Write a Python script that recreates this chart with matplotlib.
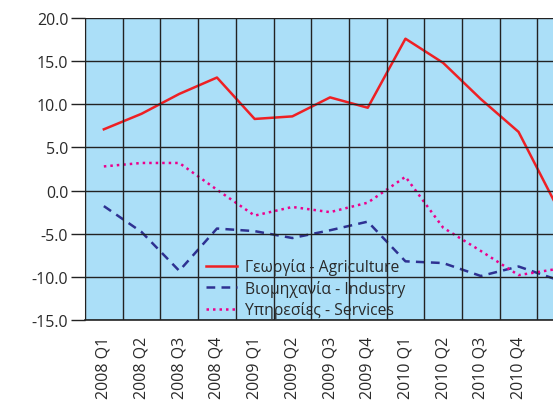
import matplotlib.pyplot as plt
from matplotlib.ticker import FixedLocator, FuncFormatter

# quarters (the last one falls just outside the picture, its label is not shown)
quarters = ["2008 Q1", "2008 Q2", "2008 Q3", "2008 Q4",
            "2009 Q1", "2009 Q2", "2009 Q3", "2009 Q4",
            "2010 Q1", "2010 Q2", "2010 Q3", "2010 Q4", "2011 Q1"]

agriculture = [7.1, 8.9, 11.2, 13.1, 8.3, 8.6, 10.8, 9.6, 17.6, 14.8, 10.6, 6.8, -1.7]
industry = [-1.8, -4.8, -9.3, -4.4, -4.7, -5.5, -4.6, -3.6, -8.2, -8.4, -9.9, -8.8, -10.3]
services = [2.8, 3.2, 3.2, 0.1, -2.9, -1.9, -2.5, -1.4, 1.6, -4.3, -7.0, -9.8, -9.1]

labels = ["Γεωργία - Agriculture", "Βιομηχανία - Industry", "Υπηρεσίες - Services"]

plt.rcParams['font.family'] = ['Open Sans', 'DejaVu Sans']

fig = plt.figure(figsize=(5.53, 4.02), dpi=100)
# axes run past the right edge of the picture, as in the original crop
W, H = 553, 402
left, right, top, bottom = 85, 85 + 37.7 * len(quarters), 19, 321
ax = fig.add_axes([left / W, 1 - bottom / H, (right - left) / W, (bottom - top) / H])
ax.set_facecolor("#ABDFF8")

x = range(len(quarters))
ax.plot(x, agriculture, color="#EE2024", lw=1.8, label=labels[0])
ax.plot(x, industry, color="#2E3192", lw=1.8, ls=(0, (3.5, 2.5)), label=labels[1])
ax.plot(x, services, color="#EC008C", lw=1.8, ls=(0, (1, 1.6)), label=labels[2])

ax.set_xlim(-0.5, len(quarters) - 0.5)
ax.set_ylim(-15, 20)
ax.set_yticks(range(-15, 21, 5))
ax.yaxis.set_major_formatter(FuncFormatter(lambda v, p: f"{v:.1f}"))
ax.set_xticks(list(x)[:-1])
ax.set_xticklabels(quarters[:-1], rotation=90)
ax.xaxis.set_minor_locator(FixedLocator([i - 0.5 for i in range(len(quarters) + 1)]))

ax.grid(axis="y", which="major", color="#222222", lw=1)
ax.grid(axis="x", which="minor", color="#222222", lw=1)
ax.set_axisbelow(False)

ax.tick_params(axis="y", length=10, width=1, color="#222222", labelsize=11.5,
               labelcolor="#2a2a2a", pad=2)
ax.tick_params(axis="x", which="both", length=0, labelsize=11.5,
               labelcolor="#2a2a2a", pad=11)

for s in ["top", "right"]:
    ax.spines[s].set_visible(False)
ax.spines["left"].set_color("#999999")
ax.spines["bottom"].set_color("#222222")
ax.spines["bottom"].set_linewidth(1.2)

ax.legend(loc="upper left", bbox_to_anchor=((206 - left) / (right - left), 1 - (259 - top) / (bottom - top)),
          frameon=False, fontsize=11.3, handlelength=2.0, labelspacing=0.3,
          borderaxespad=0, borderpad=0, handletextpad=0.5,
          labelcolor="#2a2a2a")

fig.savefig("out.png", dpi=100)
